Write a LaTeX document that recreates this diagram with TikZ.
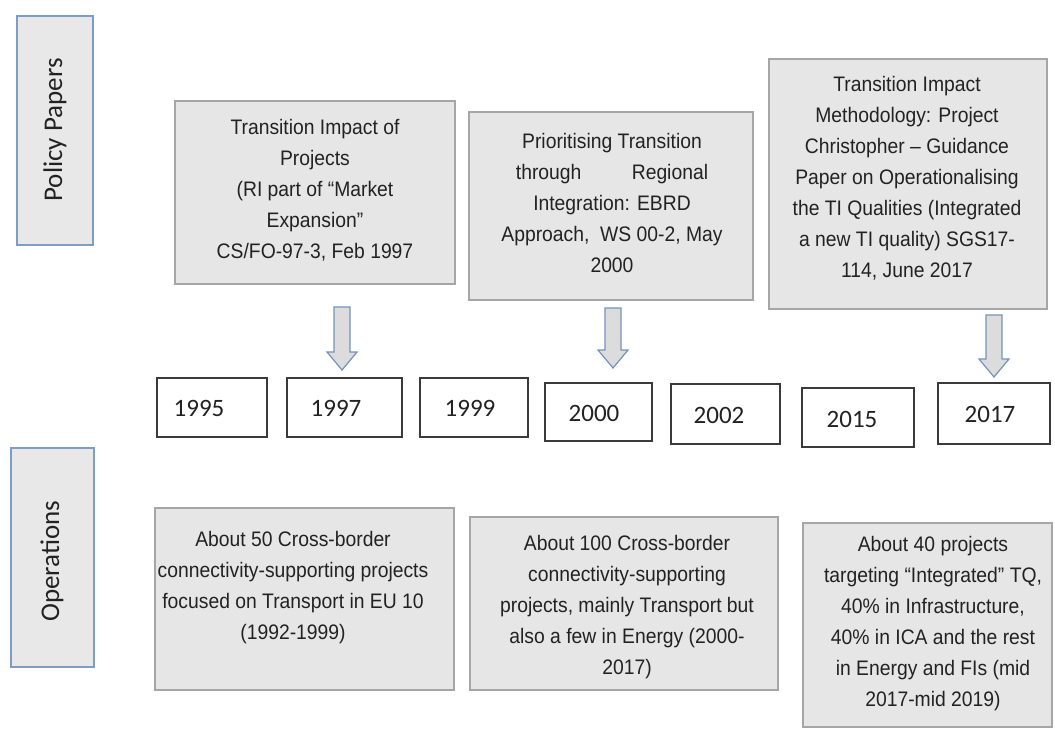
\documentclass[tikz,border=0pt]{standalone}
\usepackage{fontspec}
\setmainfont{Liberation Sans}
\newfontfamily\boxfont[FakeStretch=0.92]{Liberation Sans}
\newfontfamily\labfont{Carlito}
\definecolor{boxgray}{HTML}{E6E6E6}
\definecolor{boxborder}{HTML}{A6A6A6}
\definecolor{sidegray}{HTML}{E8E8E8}
\definecolor{sideblue}{HTML}{7E9DC4}
\definecolor{yearline}{HTML}{3A3A3A}
\definecolor{textgray}{HTML}{222222}
\definecolor{arrowblue}{HTML}{7393BC}
\definecolor{arrowgray}{HTML}{DCDCDC}
\newcommand\downarr[4]{% name, x, ytop, ytip
  \coordinate (#1) at (#2,#3);
  \draw[blockarrow] (#2-8,#3) -- (#2+8,#3) -- (#2+8,#4-18) -- (#2+15,#4-18) -- (#2,#4) -- (#2-15,#4-18) -- (#2-8,#4-18) -- cycle;}
\begin{document}
\begin{tikzpicture}[x=1pt,y=-1pt,
  sidebox/.style={draw=sideblue, line width=1.8, fill=sidegray, inner sep=0},
  paperbox/.style={draw=boxborder, line width=1.5, fill=boxgray, inner sep=0},
  yearbox/.style={draw=yearline, line width=1.8, fill=white, inner sep=0},
  boxtext/.style={align=center, font=\boxfont\fontsize{21}{31}\selectfont, text=textgray, inner sep=0},
  yeartext/.style={font=\labfont\fontsize{25}{30}\selectfont, text=textgray, inner sep=0},
  sidetext/.style={font=\labfont\fontsize{27}{30}\selectfont, text=textgray, rotate=90, inner sep=0},
  blockarrow/.style={draw=arrowblue, fill=arrowgray, line width=1.2, line join=miter}
]
\useasboundingbox (0,0) rectangle (1055,729);

% side labels
\node[sidebox, minimum width=76, minimum height=229] (pp) at (55,130.5) {};
\node[sidetext] (ppt) at (55,130) {Policy Papers};
\node[sidebox, minimum width=83, minimum height=219] (op) at (52.5,557.5) {};
\node[sidetext] (opt) at (52,561) {Operations};

% policy papers
\node[paperbox, minimum width=280, minimum height=183] (p1) at (315,192.5) {};
\node[boxtext] (p1t) at (315,190) {Transition Impact of\\Projects\\(RI part of “Market\\Expansion”\\CS/FO-97-3, Feb 1997};
\node[paperbox, minimum width=284, minimum height=188] (p2) at (611,206) {};
\node[boxtext] (p2t) at (612,202.5) {Prioritising Transition\\through\hspace{2.4em}Regional\\Integration: EBRD\\Approach,\ \ WS 00-2, May\\2000};
\node[paperbox, minimum width=278, minimum height=250] (p3) at (908,184) {};
\node[boxtext] (p3t) at (907,178.5) {Transition Impact\\Methodology: Project\\Christopher – Guidance\\Paper on Operationalising\\the TI Qualities (Integrated\\a new TI quality) SGS17-\\114, June 2017};

% arrows
\downarr{a1}{342}{307}{370}
\downarr{a2}{613}{308}{368}
\downarr{a3}{994}{315}{377}

% years
\node[yearbox, minimum width=110, minimum height=59] (y1) at (212,407.5) {};
\node[yeartext] at (199,408) {1995};
\node[yearbox, minimum width=115, minimum height=59] (y2) at (344.5,407.5) {};
\node[yeartext] at (336,408) {1997};
\node[yearbox, minimum width=108, minimum height=59] (y3) at (474,407.5) {};
\node[yeartext] at (470,408) {1999};
\node[yearbox, minimum width=107, minimum height=58] (y4) at (598.5,412) {};
\node[yeartext] at (594,413) {2000};
\node[yearbox, minimum width=109, minimum height=60] (y5) at (725.5,414) {};
\node[yeartext] at (719,415) {2002};
\node[yearbox, minimum width=112, minimum height=59] (y6) at (858,417.5) {};
\node[yeartext] at (852,419) {2015};
\node[yearbox, minimum width=112, minimum height=61] (y7) at (994,413.5) {};
\node[yeartext] at (990,414) {2017};

% operations
\node[paperbox, minimum width=299, minimum height=182] (o1) at (304.5,599) {};
\node[boxtext] (o1t) at (293,588) {About 50 Cross-border\\connectivity-supporting projects\\focused on Transport in EU 10\\(1992-1999)};
\node[paperbox, minimum width=308, minimum height=173] (o2) at (624,603.5) {};
\node[boxtext] (o2t) at (627,607) {About 100 Cross-border\\connectivity-supporting\\projects, mainly Transport but\\also a few in Energy (2000-\\2017)};
\node[paperbox, minimum width=249, minimum height=204] (o3) at (927.5,625) {};
\node[boxtext] (o3t) at (933,624) {About 40 projects\\targeting “Integrated” TQ,\\40\% in Infrastructure,\\40\% in ICA and the rest\\in Energy and FIs (mid\\2017-mid 2019)};
\end{tikzpicture}
\end{document}
